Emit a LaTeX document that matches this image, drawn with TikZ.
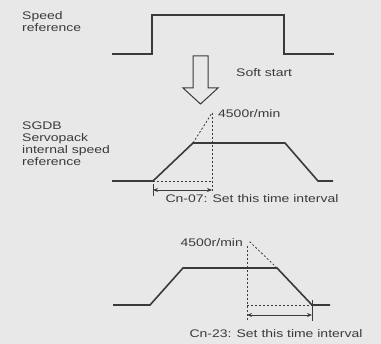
\documentclass[tikz,border=0pt]{standalone}
\usepackage{fontspec}
\setmainfont[FakeStretch=1.27]{Liberation Sans}
\usetikzlibrary{arrows.meta}
\definecolor{bg}{HTML}{E8E8E8}
\definecolor{ink}{HTML}{3A3A3A}
\tikzset{
  wave/.style={draw=ink, line width=1.6pt, line join=miter},
  guide/.style={draw=ink, line width=0.8pt, dash pattern=on 2pt off 2pt},
  dim/.style={draw=ink, line width=0.9pt, {Stealth[length=5pt,width=4pt]}-{Stealth[length=5pt,width=4pt]}},
  tick/.style={draw=ink, line width=0.8pt},
  lbl/.style={text=ink, font=\fontsize{11}{12}\selectfont, inner sep=0pt},
}
\begin{document}
\begin{tikzpicture}[x=1pt, y=-1pt]
\fill[bg] (0,0) rectangle (381,344);
\useasboundingbox (0,0) rectangle (381,344);

% top speed reference
\coordinate (r0) at (112,54); \coordinate (r1) at (152,54); \coordinate (r2) at (152,15);
\coordinate (r3) at (284,15); \coordinate (r4) at (284,54); \coordinate (r5) at (334,54);
\draw[wave] (r0) -- (r1) -- (r2) -- (r3) -- (r4) -- (r5);
\node[lbl, anchor=north west, align=left] (spref) at (22,11) {Speed\\reference};

% hollow arrow
\draw[draw=ink, line width=1pt, fill=bg, line join=miter]
  (193,56) -- (208,56) -- (208,88) -- (218,88) -- (200.5,104) -- (183,88) -- (193,88) -- cycle;
\node[lbl, anchor=west] (soft) at (236,73) {Soft start};

% middle profile
\node[lbl, anchor=north west, align=left] (sgdb) at (22,122) {SGDB\\Servopack\\internal speed\\reference};
\coordinate (m0) at (112,181); \coordinate (m1) at (153,181); \coordinate (m2) at (193,143);
\coordinate (m3) at (285,143); \coordinate (m4) at (318,181); \coordinate (m5) at (333,181);
\coordinate (mt) at (212,113); \coordinate (mb) at (212,193); \coordinate (mbase) at (212,181);
\draw[wave] (m0) -- (m1) -- (m2) -- (m3) -- (m4) -- (m5);
\draw[guide] (m2) -- (mt);
\draw[guide] (mt) -- (mb);
\draw[guide] (m1) -- (mbase);
\coordinate (ma) at (153,190); \coordinate (mz) at (212,190);
\coordinate (mk0) at (153,184); \coordinate (mk1) at (153,196);
\draw[tick] (mk0) -- (mk1);
\draw[dim] (ma) -- (mz);
\node[lbl, anchor=west] (v1) at (218,114) {4500r/min};
\node[lbl] (cn07) at (252,199) {Cn-07: Set this time interval};

% bottom profile
\coordinate (b0) at (113,305); \coordinate (b1) at (150,305); \coordinate (b2) at (183,268);
\coordinate (b3) at (277,268); \coordinate (b4) at (312,305); \coordinate (b5) at (330,305);
\coordinate (bt) at (249,241); \coordinate (bv0) at (247,246); \coordinate (bv1) at (247,320);
\coordinate (bbase) at (247,305);
\draw[wave] (b0) -- (b1) -- (b2) -- (b3) -- (b4) -- (b5);
\draw[guide] (b3) -- (bt);
\draw[guide] (bv0) -- (bv1);
\draw[guide] (bbase) -- (b4);
\coordinate (ba) at (247,315); \coordinate (bz) at (312,315);
\coordinate (bk0) at (312,300); \coordinate (bk1) at (312,321);
\draw[tick] (bk0) -- (bk1);
\draw[dim] (ba) -- (bz);
\node[lbl, anchor=east] (v2) at (243,243) {4500r/min};
\node[lbl] (cn23) at (276,334) {Cn-23: Set this time interval};
\end{tikzpicture}
\end{document}
